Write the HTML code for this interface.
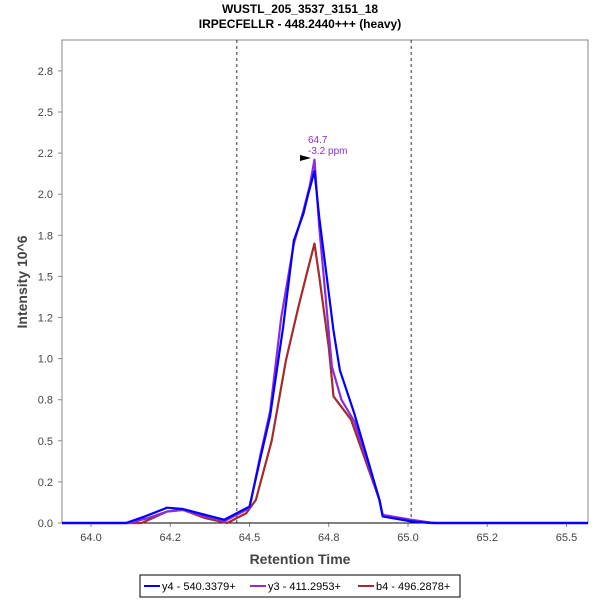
<!DOCTYPE html>
<html><head><meta charset="utf-8"><style>
body{margin:0;background:#fff;font-family:"Liberation Sans",sans-serif}
svg text{font-family:"Liberation Sans",sans-serif}
</style></head><body>
<svg id="c" width="600" height="600">
<text x="300" y="13" text-anchor="middle" font-size="12" font-weight="bold">WUSTL_205_3537_3151_18</text>
<text x="300" y="28" text-anchor="middle" font-size="12" font-weight="bold">IRPECFELLR - 448.2440+++ (heavy)</text>
<rect x="62" y="40" width="526" height="483" fill="#fff" stroke="#888"/>
<g id="ax"></g><g id="series"></g>
<text x="300" y="564" text-anchor="middle" font-size="14" font-weight="bold" fill="#444">Retention Time</text>
<text transform="translate(27,282) rotate(-90)" text-anchor="middle" font-size="14" font-weight="bold" fill="#444">Intensity 10^6</text>
<text x="308" y="143" font-size="10" fill="#8a2be2">64.7</text>
<text x="308" y="154" font-size="10" fill="#8a2be2">-3.2 ppm</text>
<polygon points="300,155 311,158 300,161" fill="#000"/>
<g>
<rect x="140" y="575" width="320" height="22" fill="#fff" stroke="#000"/>
<line x1="144" y1="586" x2="160" y2="586" stroke="#0000ff" stroke-width="2"/>
<text x="162" y="590" font-size="11">y4 - 540.3379+</text>
<line x1="250" y1="586" x2="266" y2="586" stroke="#8a2be2" stroke-width="2"/>
<text x="268" y="590" font-size="11">y3 - 411.2953+</text>
<line x1="358" y1="586" x2="374" y2="586" stroke="#a52a2a" stroke-width="2"/>
<text x="376" y="590" font-size="11">b4 - 496.2878+</text>
</g>
</svg>
<script>
const xTicks=[64.0,64.25,64.5,64.75,65.0,65.25,65.5];
const xTickLabels=["64.0","64.2","64.5","64.8","65.0","65.2","65.5"];
const yTicks=[0,0.25,0.5,0.75,1,1.25,1.5,1.75,2,2.25,2.5,2.75];
const yTickLabels=["0.0","0.2","0.5","0.8","1.0","1.2","1.5","1.8","2.0","2.2","2.5","2.8"];
const dashedLines=[64.46,65.01];
const y4T=[63.9,64.11,64.17,64.24,64.29,64.36,64.42,64.5,64.535,64.565,64.606,64.64,64.67,64.685,64.705,64.72,64.765,64.785,64.83,64.91,64.92,65.01,65.07,65.6];
const y4V=[0,0,0.04,0.093,0.085,0.05,0.02,0.10,0.40,0.65,1.19,1.72,1.88,2.0,2.14,1.86,1.17,0.93,0.67,0.14,0.04,0.01,0,0];
const y3T=[63.9,64.12,64.18,64.24,64.29,64.36,64.42,64.5,64.535,64.565,64.60,64.64,64.67,64.69,64.705,64.72,64.76,64.79,64.83,64.91,64.92,65.01,65.08,65.6];
const y3V=[0,0,0.03,0.07,0.08,0.04,0.01,0.09,0.42,0.68,1.25,1.70,1.90,2.05,2.21,1.80,0.95,0.75,0.62,0.14,0.05,0.02,0,0];
const b4T=[63.9,64.16,64.24,64.29,64.36,64.43,64.49,64.52,64.57,64.615,64.655,64.685,64.705,64.72,64.75,64.765,64.82,64.91,64.92,65.02,65.09,65.6];
const b4V=[0,0,0.07,0.08,0.03,0.0,0.06,0.14,0.5,0.99,1.32,1.55,1.70,1.50,1.07,0.77,0.63,0.14,0.05,0.01,0,0];
const NS="http://www.w3.org/2000/svg";
const X=t=>91+(t-64)*317, Y=v=>523-v*164.4;
const ax=document.getElementById('ax'), sg=document.getElementById('series');
function mk(tag,attrs,parent,txt){const e=document.createElementNS(NS,tag);for(const k in attrs)e.setAttribute(k,attrs[k]);if(txt!==undefined)e.textContent=txt;parent.appendChild(e);return e;}
xTicks.forEach((t,i)=>{
 const l=mk('line',{x1:X(t),x2:X(t),y1:523,y2:527,stroke:'#888'},ax);
 
 
 const tx=mk('text',{x:X(t),y:541,'text-anchor':'middle','font-size':11,fill:'#444'},ax,xTickLabels[i]);
 
 
});
yTicks.forEach((v,i)=>{
 const l=mk('line',{x1:58,x2:62,y1:Y(v),y2:Y(v),stroke:'#888'},ax);
 
 
 const tx=mk('text',{x:53,y:Y(v)+4,'text-anchor':'end','font-size':11,fill:'#444'},ax,yTickLabels[i]);
 
 
});
dashedLines.forEach(t=>{
 const l=mk('line',{x1:X(t),x2:X(t),y1:40,y2:523,stroke:'#333','stroke-dasharray':'3,3'},ax);
 
 
});
const base=mk('line',{x1:62,x2:588,y1:523,y2:523,stroke:'#000'},ax);


function line(T,V,col,name){
 const p=mk('polyline',{points:T.map((t,i)=>Math.max(62,Math.min(588,X(t)))+','+Y(V[i])).join(' '),fill:'none',stroke:col,'stroke-width':2.2,'stroke-linejoin':'round'},sg);
 
 
}
line(b4T,b4V,'#a52a2a','series-b4');
line(y3T,y3V,'#8a2be2','series-y3');
line(y4T,y4V,'#0000ff','series-y4');
</script>
</body></html>
